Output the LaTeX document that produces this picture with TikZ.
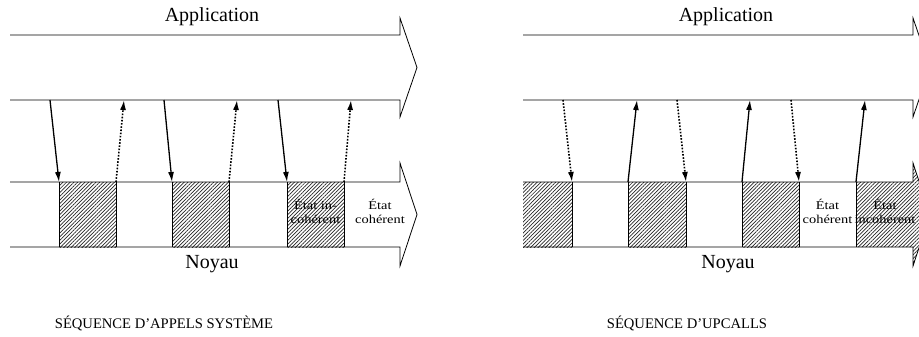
\documentclass[tikz,border=0pt]{standalone}
\usepackage{fontspec}
\usepackage{graphicx}
\setmainfont{Liberation Serif}
\usetikzlibrary{patterns.meta,arrows.meta}
\newcommand\twolines[2]{\scalebox{1.2}[1]{\fontsize{12}{14}\selectfont\begin{tabular}{@{}c@{}}#1\\#2\end{tabular}}}
\begin{document}
\begin{tikzpicture}[x=1pt,y=-1pt,
  band/.style={draw=black,line width=0.8pt},
  hatch/.style={pattern={Lines[angle=45,distance=2.6pt,line width=0.7pt]},pattern color=black!85},
  edge/.style={draw=black,line width=1pt},
  call/.style={-{Latex[length=10pt,width=6pt]},line width=1.3pt},
  ret/.style={-{Latex[length=10pt,width=6pt]},line width=1.6pt,dash pattern=on 1.6pt off 1.6pt},
  big/.style={font=\fontsize{20}{24}\selectfont},
  captiontext/.style={font=\fontsize{14.6}{17}\selectfont},
  small/.style={inner sep=0pt}]
\useasboundingbox (0,0) rectangle (919,337);
\clip (0,0) rectangle (919,337);

% ---------------- left diagram ----------------
\path[hatch] (59,182) rectangle (116,247);
\path[hatch] (172,182) rectangle (229,247);
\path[hatch] (287,182) rectangle (344,247);
\foreach \x in {59,116,172,229,287,344} \draw[edge] (\x,182) -- (\x,247);
\draw[band] (10,35) -- (400,35) -- (400,18) -- (417,67.5) -- (400,117) -- (400,100) -- (10,100);
\draw[band] (10,182) -- (400,182) -- (400,163) -- (417,214.5) -- (400,266) -- (400,247) -- (10,247);

\coordinate (La1) at (50,100);  \coordinate (Lk1) at (59,182);
\coordinate (Lk2) at (116,182); \coordinate (La2) at (124,100);
\coordinate (La3) at (164,100); \coordinate (Lk3) at (172,182);
\coordinate (Lk4) at (229,182); \coordinate (La4) at (237,100);
\coordinate (La5) at (278,100); \coordinate (Lk5) at (287,182);
\coordinate (Lk6) at (344,182); \coordinate (La6) at (351,100);
\draw[call] (La1) -- (Lk1);
\draw[ret] (Lk2) -- (La2);
\draw[call] (La3) -- (Lk3);
\draw[ret] (Lk4) -- (La4);
\draw[call] (La5) -- (Lk5);
\draw[ret] (Lk6) -- (La6);

\node[big] (LApp) at (212,17) {Application};
\node[big] (LNoy) at (212,264) {Noyau};
\node[small] (LInc) at (315.5,213.5) {\twolines{État in-}{cohérent}};
\node[small] (LCoh) at (380,213.5) {\twolines{État}{cohérent}};
\node[captiontext] (LCap) at (164,323) {SÉQUENCE D’APPELS SYSTÈME};

% ---------------- right diagram ----------------
\path[hatch] (523,182) rectangle (572,247);
\path[hatch] (628,182) rectangle (686,247);
\path[hatch] (742,182) rectangle (799,247);
\path[hatch] (856,182) -- (913,182) -- (913,163) -- (930,214.5) -- (913,266) -- (913,247) -- (856,247) -- cycle;
\foreach \x in {572,628,686,742,799,856} \draw[edge] (\x,182) -- (\x,247);
\draw[band] (523,35) -- (913,35) -- (913,18) -- (930,67.5) -- (913,117) -- (913,100) -- (523,100);
\draw[band] (523,182) -- (913,182) -- (913,163) -- (930,214.5) -- (913,266) -- (913,247) -- (523,247);

\coordinate (Ra1) at (563,100); \coordinate (Rk1) at (572,182);
\coordinate (Rk2) at (628,182); \coordinate (Ra2) at (637,100);
\coordinate (Ra3) at (677,100); \coordinate (Rk3) at (686,182);
\coordinate (Rk4) at (742,182); \coordinate (Ra4) at (750,100);
\coordinate (Ra5) at (791,100); \coordinate (Rk5) at (799,182);
\coordinate (Rk6) at (856,182); \coordinate (Ra6) at (865,100);
\draw[ret] (Ra1) -- (Rk1);
\draw[call] (Rk2) -- (Ra2);
\draw[ret] (Ra3) -- (Rk3);
\draw[call] (Rk4) -- (Ra4);
\draw[ret] (Ra5) -- (Rk5);
\draw[call] (Rk6) -- (Ra6);

\node[big] (RApp) at (726,17) {Application};
\node[big] (RNoy) at (728,264) {Noyau};
\node[small] (RCoh) at (827.5,213.5) {\twolines{État}{cohérent}};
\node[small] (RInc) at (885,213.5) {\twolines{État}{incohérent}};
\node[captiontext] (RCap) at (687,323) {SÉQUENCE D’UPCALLS};
\end{tikzpicture}
\end{document}
